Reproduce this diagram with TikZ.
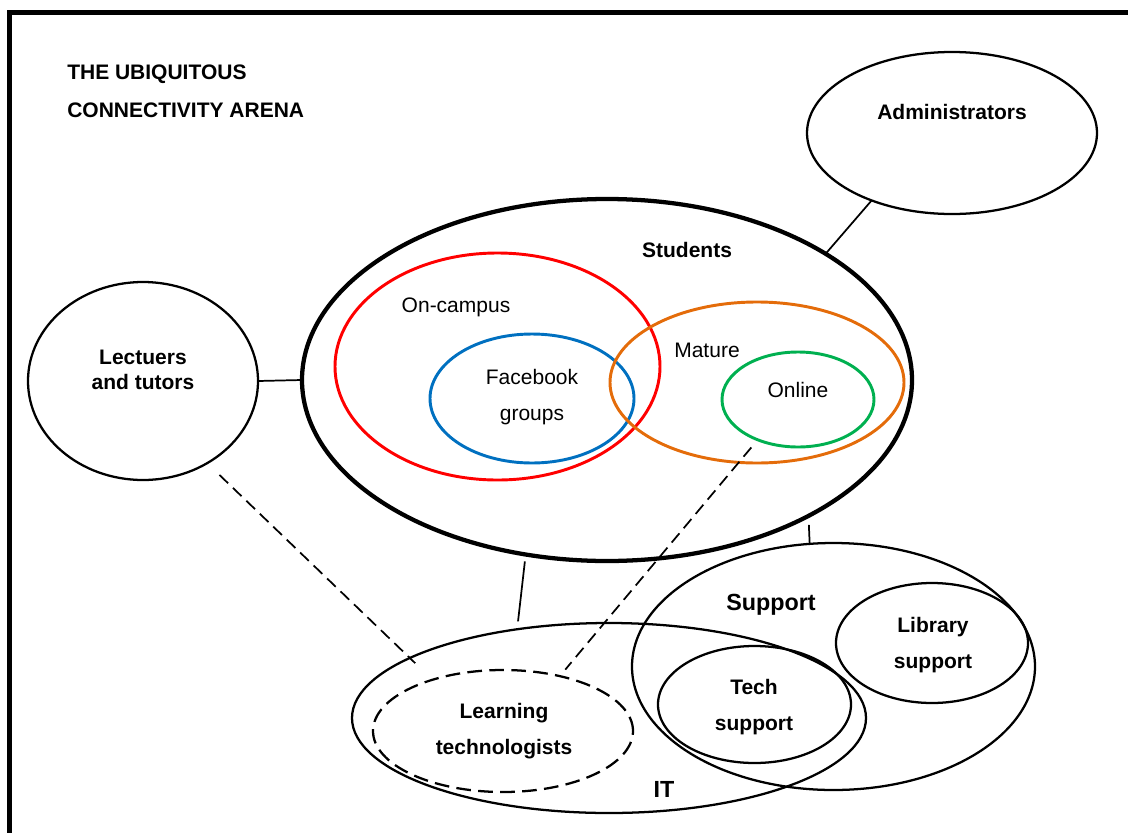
\documentclass[tikz,border=0pt]{standalone}
\usepackage{fontspec}
\setmainfont{Liberation Sans}
\usetikzlibrary{shapes.geometric}

\definecolor{campusred}{RGB}{255,0,0}
\definecolor{fbblue}{RGB}{0,112,192}
\definecolor{matureorange}{RGB}{228,108,10}
\definecolor{onlinegreen}{RGB}{0,176,80}

\begin{document}
\begin{tikzpicture}[x=0.75pt,y=-0.75pt,
  ell/.style={ellipse, draw, inner sep=0pt, outer sep=0pt, line width=1.7pt},
  thickell/.style={ell, line width=3.2pt},
  colell/.style={ell, line width=2.2pt, draw=#1},
  dashell/.style={ell, dash pattern=on 11pt off 5.5pt},
  link/.style={line width=1.3pt},
  dashlink/.style={line width=1.3pt, dash pattern=on 9pt off 5pt},
  lbl/.style={font=\fontsize{15.75}{27}\selectfont\bfseries, align=center, inner sep=0pt},
  biglbl/.style={lbl, font=\fontsize{17.5}{27}\selectfont\bfseries},
  plainlbl/.style={font=\fontsize{15.75}{27}\selectfont, align=center, inner sep=0pt}
]
\useasboundingbox (0,0) rectangle (1128,832);

% outer frame
\draw[line width=3.75pt, line join=miter] (9,840) -- (9,12) -- (1140,12);

% title
\node[lbl, anchor=west] (title1) at (67,74) {THE UBIQUITOUS};
\node[lbl, anchor=west] (title2) at (67,110) {CONNECTIVITY ARENA};

% actors
\node[ell, minimum width=217.5pt, minimum height=121.5pt] (admin) at (952,133) {};
\node[ell, minimum width=172.5pt, minimum height=148.5pt] (lect) at (143,381) {};
\node[thickell, minimum width=457.5pt, minimum height=271.5pt] (stud) at (607,380) {};

% student groups
\node[colell=campusred, minimum width=243.75pt, minimum height=170.25pt] (campus) at (497.5,366.5) {};
\node[colell=fbblue, minimum width=153pt, minimum height=96.75pt] (fb) at (532,398.5) {};
\node[colell=matureorange, minimum width=220.5pt, minimum height=120.75pt] (mature) at (757,382.5) {};
\node[colell=onlinegreen, minimum width=114pt, minimum height=71.25pt] (online) at (798,399.5) {};

% support and IT
\node[ell, minimum width=302.25pt, minimum height=185.25pt] (supp) at (833.5,666.5) {};
\node[ell, minimum width=144pt, minimum height=90pt] (lib) at (932,643) {};
\node[ell, minimum width=144.75pt, minimum height=87.75pt] (tech) at (754.5,704.5) {};
\node[ell, minimum width=385.5pt, minimum height=142.5pt] (it) at (609,718) {};
\node[dashell, minimum width=195pt, minimum height=91.5pt] (lt) at (503,731) {};

% labels
\node[lbl] (adminlbl) at (952,112) {Administrators};
\node[lbl, font=\fontsize{15.75}{18.75}\selectfont\bfseries] (lectlbl) at (143,370) {Lectuers\\and tutors};
\node[lbl] (studlbl) at (687,250) {Students};
\node[plainlbl] (campuslbl) at (456,307) {On-campus};
\node[plainlbl] (fblbl) at (532,397) {Facebook\\groups};
\node[plainlbl] (maturelbl) at (707,350) {Mature};
\node[plainlbl] (onlinelbl) at (798,390) {Online};
\node[biglbl] (supplbl) at (771,605) {Support};
\node[lbl] (liblbl) at (933,645) {Library\\support};
\node[lbl] (techlbl) at (754,707) {Tech\\support};
\node[lbl] (ltlbl) at (504,731) {Learning\\technologists};
\node[biglbl] (itlbl) at (664,789) {IT};

% connectors
\draw[link] (admin.220.7) -- (stud.30.3);
\draw[link] (lect.east) -- (stud.west);
\draw[link, shorten <=6.75pt] (stud.-34.1) -- (supp.101.8);
\draw[link, shorten <=5.25pt, shorten >=6pt] (stud.-115.2) -- (it.136.9);
\draw[dashlink, shorten <=12.75pt, shorten >=18pt] (lect.-52.8) -- (lt.144.9);
\draw[dashlink, shorten <=7.5pt, shorten >=6.4pt] (online.-135) -- (lt.44.5);

\end{tikzpicture}
\end{document}
